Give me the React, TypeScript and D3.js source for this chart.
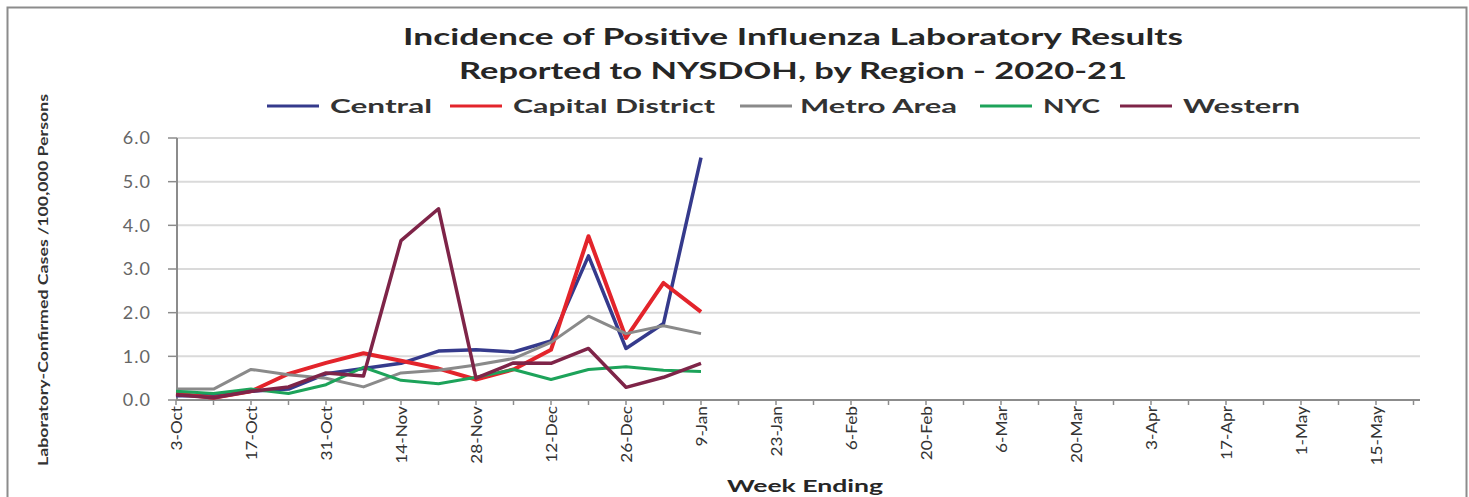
import React from 'react';
import * as d3 from 'd3';

// week-ending labels on the category axis
const weeks = [
  '3-Oct', '10-Oct', '17-Oct', '24-Oct', '31-Oct', '7-Nov', '14-Nov', '21-Nov', '28-Nov',
  '5-Dec', '12-Dec', '19-Dec', '26-Dec', '2-Jan', '9-Jan', '16-Jan', '23-Jan', '30-Jan',
  '6-Feb', '13-Feb', '20-Feb', '27-Feb', '6-Mar', '13-Mar', '20-Mar', '27-Mar', '3-Apr',
  '10-Apr', '17-Apr', '24-Apr', '1-May', '8-May', '15-May', '22-May',
];

// rates per 100,000, reported weeks only
const central = [0.1, 0.1, 0.2, 0.25, 0.6, 0.72, 0.84, 1.12, 1.15, 1.1, 1.35, 3.3, 1.18, 1.75, 5.55];
const capitalDistrict = [0.15, 0.05, 0.2, 0.6, 0.85, 1.07, 0.9, 0.72, 0.47, 0.7, 1.15, 3.75, 1.42, 2.68, 2.02];
const metroArea = [0.25, 0.25, 0.7, 0.58, 0.5, 0.3, 0.62, 0.68, 0.8, 0.95, 1.32, 1.92, 1.52, 1.7, 1.52];
const nyc = [0.2, 0.15, 0.25, 0.15, 0.35, 0.75, 0.45, 0.37, 0.52, 0.7, 0.47, 0.7, 0.76, 0.68, 0.65];
const western = [0.12, 0.05, 0.2, 0.3, 0.62, 0.55, 3.65, 4.38, 0.5, 0.85, 0.84, 1.18, 0.29, 0.52, 0.84];

const yTicks = [0, 1, 2, 3, 4, 5, 6];

const series = [
  { name: 'Central', values: central, color: '#353A8C', width: 3.5 },
  { name: 'Capital District', values: capitalDistrict, color: '#E3242B', width: 4 },
  { name: 'Metro Area', values: metroArea, color: '#8A8A8A', width: 3 },
  { name: 'NYC', values: nyc, color: '#1DA35A', width: 3 },
  { name: 'Western', values: western, color: '#7E2448', width: 3.5 },
];

// legend layout: [line start, text start, text width]
const legendPos = [
  [267, 330, 102],
  [450, 513, 202],
  [740, 800, 157],
  [980, 1043, 57],
  [1120, 1183, 117],
];

const W = 1469;
const H = 497;
const font = 'Lato, "Open Sans", sans-serif';

export default function App() {
  const x = d3.scalePoint<string>().domain(weeks).range([176, 1413.5]);
  const y = d3.scaleLinear().domain([0, 6]).range([400, 138]);

  const line = d3
    .line<number>()
    .x((_, i) => x(weeks[i]) as number)
    .y((d) => y(d));

  return (
    <svg width={W} height={H} style={{ position: 'absolute', left: 0, top: 0, background: '#fff' }}>
      <rect x={7.5} y={7.5} width={1459} height={H + 10} fill="#fff" stroke="#8C8C8C" strokeWidth={2} />

      {/* title */}
      <text x={793} y={45} textAnchor="middle" fontFamily={font} fontWeight={700} fontSize={22}
        fill="#262626" textLength={780} lengthAdjust="spacingAndGlyphs">
        Incidence of Positive Influenza Laboratory Results
      </text>
      <text x={793} y={79} textAnchor="middle" fontFamily={font} fontWeight={700} fontSize={22}
        fill="#262626" textLength={668} lengthAdjust="spacingAndGlyphs">
        Reported to NYSDOH, by Region - 2020-21
      </text>

      {/* legend */}
      {series.map((s, i) => {
        const [lx, tx, tw] = legendPos[i];
        return (
          <g key={s.name}>
            <line x1={lx} x2={lx + 52} y1={106} y2={106} stroke={s.color} strokeWidth={3} />
            <text x={tx} y={113} fontFamily={font} fontWeight={700} fontSize={19} fill="#333"
              textLength={tw} lengthAdjust="spacingAndGlyphs">
              {s.name}
            </text>
          </g>
        );
      })}

      {/* gridlines */}
      {yTicks.slice(1).map((t) => (
        <line key={t} x1={177} x2={1420} y1={y(t)} y2={y(t)} stroke="#DADADA" strokeWidth={2} />
      ))}

      {/* y axis */}
      <line x1={177} x2={177} y1={y(6)} y2={y(0)} stroke="#8C8C8C" strokeWidth={2} />
      {yTicks.map((t) => (
        <g key={t}>
          <line x1={168} x2={177} y1={y(t)} y2={y(t)} stroke="#8C8C8C" strokeWidth={1.5} />
          <text x={151} y={y(t)} dy="0.35em" textAnchor="end" fontFamily={font} fontSize={18}
            fill="#666" letterSpacing={1}>
            {d3.format('.1f')(t)}
          </text>
        </g>
      ))}
      <text transform="translate(48,280) rotate(-90)" textAnchor="middle" fontFamily={font}
        fontWeight={700} fontSize={14} fill="#333" textLength={372} lengthAdjust="spacingAndGlyphs">
        Laboratory-Confirmed Cases /100,000 Persons
      </text>

      {/* x axis */}
      <line x1={176} x2={1420} y1={y(0)} y2={y(0)} stroke="#8C8C8C" strokeWidth={2} />
      {weeks.map((w, i) => (
        <g key={w}>
          <line x1={x(w)} x2={x(w)} y1={y(0)} y2={y(0) + 5} stroke="#8C8C8C" strokeWidth={1.5} />
          {i % 2 === 0 && (
            <text transform={`translate(${x(w)},${y(0) + 6}) rotate(-90) scale(1.15,1)`} textAnchor="end"
              dominantBaseline="central" fontFamily={font} fontSize={15} fill="#333">
              {w}
            </text>
          )}
        </g>
      ))}
      <text x={805} y={492} textAnchor="middle" fontFamily={font} fontWeight={700} fontSize={17} fill="#262626"
        textLength={156} lengthAdjust="spacingAndGlyphs">
        Week Ending
      </text>

      {/* series */}
      {series.map((s) => (
        <path key={s.name} d={line(s.values) as string} fill="none" stroke={s.color}
          strokeWidth={s.width} strokeLinejoin="round" />
      ))}
    </svg>
  );
}
